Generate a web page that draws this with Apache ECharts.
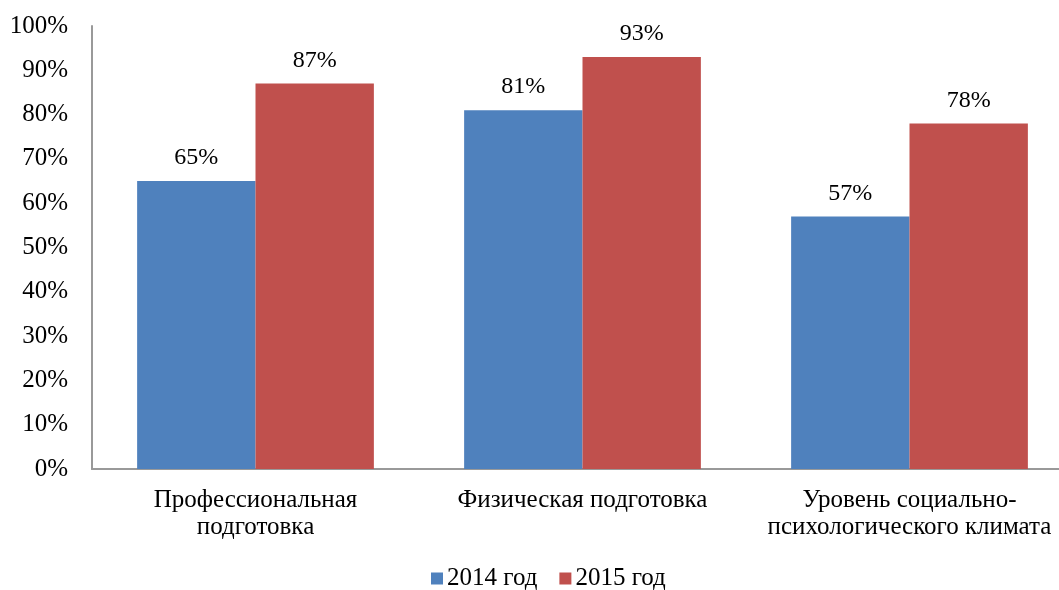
<!DOCTYPE html>
<html>
<head>
<meta charset="utf-8">
<script src="https://cdn.jsdelivr.net/npm/echarts@6/dist/echarts.min.js"></script>
<style>
html,body{margin:0;padding:0;background:#fff;}
#chart{width:1059px;height:590px;}
</style>
</head>
<body>
<div id="chart"></div>
<script>
const categories = ['Профессиональная\nподготовка', 'Физическая подготовка', 'Уровень социально-\nпсихологического климата'];
const seriesNames = ['2014 год', '2015 год'];
const values2014 = [65, 81, 57];
const values2015 = [87, 93, 78];

const font = 'Liberation Serif, Times New Roman, serif';
const fs = 25;
const chart = echarts.init(document.getElementById('chart'), null, {renderer: 'canvas'});
const labelStyle = {show: true, position: 'top', distance: 11, formatter: '{c}%', fontFamily: font, fontSize: 24, color: '#000'};
chart.setOption({
  animation: false,
  grid: {left: 92, top: 26, width: 981, bottom: 121, containLabel: false, outerBoundsMode: 'none'},
  legend: {
    top: 566, left: 431, padding: 0,
    itemWidth: 12, itemHeight: 12, itemGap: 22,
    icon: 'rect',
    textStyle: {fontFamily: font, fontSize: fs, color: '#000', padding: [0, 0, 0, -1]},
    data: seriesNames
  },
  xAxis: {
    type: 'category', data: categories,
    axisLine: {lineStyle: {color: '#999', width: 2}},
    axisTick: {show: false},
    axisLabel: {fontFamily: font, fontSize: fs, color: '#000', lineHeight: 27, margin: 18, interval: 0}
  },
  yAxis: {
    type: 'value', min: 0, max: 100, interval: 10,
    axisLine: {show: true, lineStyle: {color: '#999', width: 2}},
    axisTick: {show: false},
    splitLine: {show: false},
    axisLabel: {fontFamily: font, fontSize: fs, color: '#000', margin: 24, formatter: '{value}%'}
  },
  series: [
    {name: seriesNames[0], type: 'bar', data: values2014, barWidth: '36.2%', barGap: '0%',
     itemStyle: {color: '#4F81BD'}, label: labelStyle},
    {name: seriesNames[1], type: 'bar', data: values2015, barWidth: '36.2%', barGap: '0%',
     itemStyle: {color: '#C0504D'}, label: labelStyle}
  ]
});
</script>
</body>
</html>
